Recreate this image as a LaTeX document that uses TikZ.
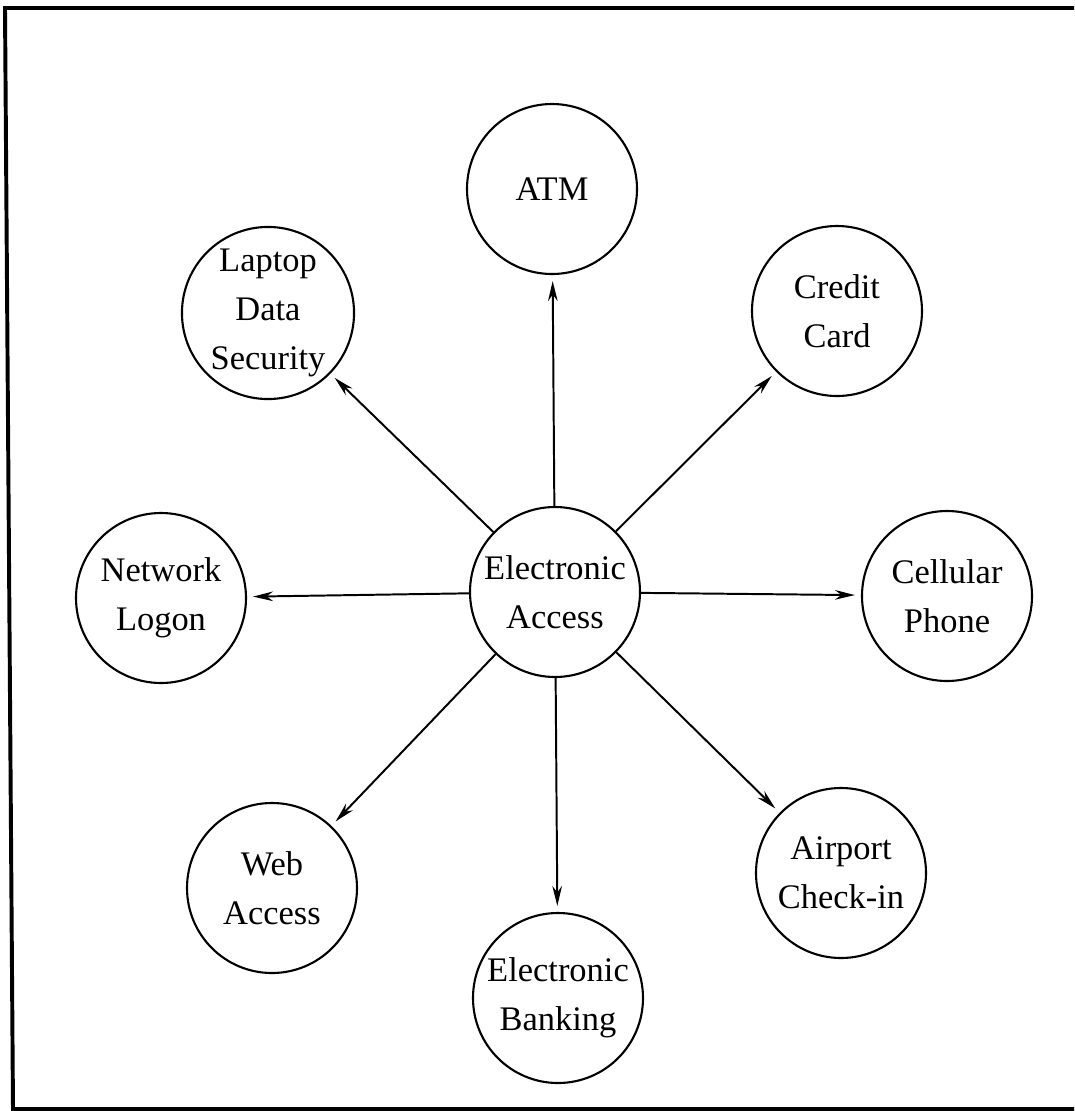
\documentclass[tikz,border=0pt]{standalone}
\usepackage{fontspec}
\setmainfont{Liberation Serif}
\usetikzlibrary{arrows.meta}

\tikzset{
  usecase/.style={circle, draw, line width=1.5pt, minimum size=42.5mm, inner sep=0pt,
    align=center, font=\fontsize{24.5}{35}\selectfont},
  link/.style={line width=1.4pt, -{Stealth[length=5mm,width=2.4mm]}, shorten >=1.5mm}
}

\begin{document}
\begin{tikzpicture}[x=0.25mm, y=-0.25mm]
        \useasboundingbox (0,0) rectangle (1074,1111);
        % Frame
        \draw[line width=2.8pt] (1074,8) -- (5,8) -- (13,1109) -- (1074,1109);
        % Centre
        \node[usecase] (access) at (555,592) {Electronic\\Access};
        % Uses
        \node[usecase] (atm) at (552,189) {ATM};
        \node[usecase] (laptop) at (268,313) {Laptop\\Data\\Security};
        \node[usecase] (credit) at (837,311) {Credit\\Card};
        \node[usecase] (network) at (161,598) {Network\\Logon};
        \node[usecase] (cellular) at (947,596) {Cellular\\Phone};
        \node[usecase] (web) at (272,888) {Web\\Access};
        \node[usecase] (banking) at (558,998) {Electronic\\Banking};
        \node[usecase] (airport) at (841,873) {Airport\\Check-in};
        % Connections
        \foreach \n in {atm,laptop,credit,network,cellular,web,banking,airport} \draw[link] (access) -- (\n);
    \end{tikzpicture}
\end{document}
